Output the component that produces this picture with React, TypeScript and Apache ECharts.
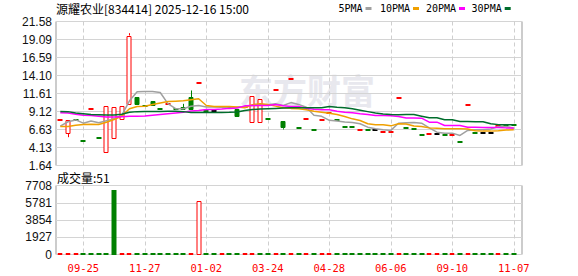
import React, { useEffect, useRef } from "react";
import * as echarts from "echarts";

const dates = [
  "09-03", "09-10", "09-19", "09-25", "10-08", "10-15", "10-24", "10-30", "11-05", "11-12",
  "11-20", "11-27", "12-03", "12-06", "12-11", "12-16", "12-19", "12-24", "12-27", "01-02",
  "01-08", "01-15", "02-06", "02-13", "02-25", "03-05", "03-14", "03-24", "03-28", "04-02",
  "04-08", "04-11", "04-16", "04-21", "04-24", "04-28", "05-08", "05-14", "05-20", "05-23",
  "05-27", "05-30", "06-03", "06-06", "06-17", "06-27", "07-08", "07-18", "07-31", "08-13",
  "08-26", "09-10", "09-17", "09-24", "10-10", "10-16", "10-21", "10-27", "11-03", "11-07",
];

const opens = [
  8.0, 6.03, 7.95, 5.06, 9.49, 5.48, 3.4, 5.34, 8.0, 10.07,
  11.06, 9.93, 10.64, 9.49, 10.2, 9.5, 9.72, 11.1, 13.09, 9.2,
  9.12, 9.72, 9.62, 9.49, 9.8, 7.55, 7.55, 8.11, 12.03, 7.87,
  13.65, 6.86, 8.11, 6.58, 7.97, 8.9, 7.97, 7.04, 7.04, 6.58,
  6.58, 6.58, 6.33, 6.33, 11.0, 6.86, 6.72, 5.93, 6.05, 6.05,
  5.93, 5.93, 4.92, 9.95, 6.18, 6.18, 6.18, 7.05, 7.27, 7.27,
];
const closes = [
  8.0, 8.0, 7.95, 5.06, 9.49, 5.48, 9.91, 9.72, 9.93, 19.64,
  9.95, 9.93, 9.86, 9.49, 10.2, 9.42, 9.26, 9.3, 13.09, 9.2,
  9.12, 9.72, 9.62, 8.33, 9.8, 11.33, 10.88, 8.11, 12.03, 6.8,
  13.65, 6.86, 8.11, 6.58, 7.97, 8.9, 7.97, 7.04, 7.04, 6.58,
  6.58, 6.58, 6.33, 6.33, 11.0, 6.86, 6.72, 5.93, 6.05, 6.05,
  5.93, 5.93, 4.92, 9.95, 6.18, 6.18, 6.18, 7.05, 7.27, 7.27,
];
const lows = [
  8.0, 5.56, 7.95, 5.06, 9.49, 5.48, 3.4, 5.34, 8.0, 10.07,
  9.95, 9.93, 9.86, 9.49, 10.2, 9.42, 9.26, 9.26, 13.09, 9.2,
  9.12, 9.72, 9.62, 8.33, 9.8, 7.55, 7.55, 8.11, 12.03, 6.63,
  13.65, 6.86, 8.11, 6.58, 7.97, 8.9, 7.97, 7.04, 7.04, 6.58,
  6.58, 6.58, 6.33, 6.33, 11.0, 6.86, 6.72, 5.93, 6.05, 6.05,
  5.93, 5.93, 4.92, 9.95, 6.18, 6.18, 6.18, 7.05, 7.27, 7.27,
];
const highs = [
  8.0, 8.0, 7.95, 5.06, 9.49, 5.48, 9.95, 9.77, 9.93, 19.96,
  11.06, 9.93, 10.64, 9.49, 10.2, 9.5, 10.18, 12.03, 13.09, 9.2,
  9.12, 9.72, 9.62, 9.49, 9.8, 11.33, 10.88, 8.11, 12.03, 7.87,
  13.65, 6.86, 8.11, 6.58, 7.97, 8.9, 7.97, 7.04, 7.04, 6.58,
  6.58, 6.58, 6.33, 6.33, 11.0, 6.86, 6.72, 5.93, 6.05, 6.05,
  5.93, 5.93, 4.92, 9.95, 6.18, 6.18, 6.18, 7.05, 7.27, 7.27,
];
// 1 = rise (red), -1 = fall (green), 0 = flat (black)
const trends = [
  1, 1, -1, -1, 1, -1, 1, 1, 1, 1,
  -1, -1, -1, -1, 1, -1, -1, -1, 1, -1,
  0, 1, -1, -1, 1, 1, 1, -1, 1, -1,
  1, -1, 1, -1, 1, 1, -1, -1, -1, 1,
  -1, 0, 1, 1, 1, -1, -1, -1, 1, 0,
  -1, 1, -1, 1, -1, 0, 0, 1, -1, -1,
];

const ma5 = [
  7.1, 7.7, 7.95, 7.5, 7.8, 7.55, 7.85, 8.1, 8.6, 10.6,
  11.85, 11.9, 11.9, 11.75, 10.2, 9.5, 9.5, 9.85, 9.95, 9.75,
  9.75, 9.7, 9.6, 9.7, 9.8, 9.95, 10.1, 10.05, 10.2, 9.95,
  10.35, 10.1, 9.7, 8.6, 8.45, 7.9, 7.8, 7.65, 7.6, 7.42,
  6.95, 6.72, 6.58, 6.5, 7.5, 7.55, 7.6, 7.5, 6.86, 6.26,
  6.12, 6.12, 5.8, 6.49, 6.58, 6.58, 6.7, 7.05, 7.05, 6.8,
];
const ma10 = [
  7.05, 7.05, 7.2, 7.32, 7.35, 7.32, 7.64, 8.0, 8.5, 9.49,
  9.81, 9.85, 10.1, 10.3, 10.5, 10.55, 10.6, 10.74, 10.88, 9.95,
  9.81, 9.81, 9.81, 9.75, 9.63, 10.05, 10.18, 10.1, 9.86, 9.63,
  9.55, 9.49, 9.35, 9.16, 9.03, 8.89, 8.7, 8.43, 8.1, 7.87,
  7.42, 7.27, 7.27, 7.13, 7.42, 7.4, 7.1, 7.05, 6.85, 6.8,
  6.72, 6.72, 6.72, 6.7, 6.45, 6.4, 6.4, 6.45, 6.55, 6.58,
];
const ma20 = [
  8.95, 8.9, 8.75, 8.6, 8.55, 8.45, 8.35, 8.35, 8.4, 8.45,
  8.45, 8.5, 8.6, 8.7, 8.8, 8.9, 9.0, 9.2, 9.26, 9.4,
  9.4, 9.45, 9.55, 9.6, 9.9, 9.95, 9.95, 9.95, 10.1, 9.9,
  9.81, 9.81, 9.58, 9.44, 9.35, 9.35, 9.16, 9.03, 8.94, 8.8,
  8.7, 8.56, 8.56, 8.52, 8.43, 8.22, 8.22, 8.2, 7.64, 7.64,
  7.18, 7.18, 7.18, 6.95, 6.95, 6.9, 6.9, 6.9, 6.85, 6.85,
];
const ma30 = [
  9.12, 9.1, 8.9, 8.8, 8.7, 8.68, 8.62, 8.62, 8.75, 9.0,
  9.1, 9.12, 9.12, 9.12, 9.14, 9.14, 9.1, 8.98, 8.98, 8.98,
  8.98, 8.98, 9.0, 9.05, 9.26, 9.39, 9.45, 9.5, 9.55, 9.6,
  9.63, 9.63, 9.63, 9.63, 9.65, 9.8, 9.7, 9.63, 9.49, 9.3,
  9.1, 8.9, 8.78, 8.7, 8.66, 8.7, 8.7, 8.47, 8.24, 8.24,
  7.97, 7.97, 7.73, 7.73, 7.7, 7.7, 7.42, 7.3, 7.28, 7.28,
];

const volumes = [
  120, 90, 80, 100, 110, 90, 150, 7150, 130, 160,
  100, 90, 120, 80, 90, 100, 110, 130, 6000, 100,
  80, 90, 100, 120, 90, 140, 130, 100, 90, 110,
  120, 100, 90, 80, 100, 90, 100, 80, 90, 100,
  80, 90, 100, 90, 110, 100, 90, 80, 100, 90,
  80, 90, 100, 110, 90, 80, 90, 100, 80, 51,
];
const volTrends = [
  1, 1, 1, -1, -1, -1, -1, -1, 1, 1,
  -1, -1, -1, -1, -1, -1, -1, 1, 1, -1,
  -1, 1, -1, -1, 1, 1, -1, -1, 1, -1,
  1, -1, 1, -1, 1, 1, -1, -1, -1, -1,
  -1, -1, -1, -1, 1, -1, -1, -1, 1, 1,
  -1, 1, -1, 1, -1, -1, -1, 1, -1, -1,
];

const priceTicks = ["1.64", "4.13", "6.63", "9.12", "11.61", "14.10", "16.59", "19.09", "21.58"];
const volumeMax = 7708;
const volumeStep = 1927;
const lastVolume = 51;

const UP = "#ff0000";
const DOWN = "#008000";
const FLAT = "#000000";

const labelIdx = (i: number) => i % 8 === 3;

export default function App() {
  const ref = useRef<HTMLDivElement>(null);
  useEffect(() => {
    if (!ref.current) return;
    const chart = echarts.init(ref.current, undefined, { renderer: "svg" });

    const candleData = dates.map((_, i) => [i, opens[i], closes[i], lows[i], highs[i], trends[i]]);
    const volData = dates.map((_, i) => [i, volumes[i], volTrends[i]]);

    const yLabel = {
      color: "#111",
      fontSize: 12,
      fontFamily: "Liberation Sans, Arial, sans-serif",
      margin: 4,
    };

    const option: any = {
      animation: false,
      backgroundColor: "#fff",
      grid: [
        { left: 56, top: 21.5, width: 466, height: 144, show: true, borderColor: "#999", borderWidth: 1, backgroundColor: "transparent" },
        { left: 60.3, top: 21.5, width: 453.5, height: 144 },
        { left: 56, top: 185.5, width: 466, height: 69, show: true, borderColor: "#999", borderWidth: 1, backgroundColor: "transparent" },
        { left: 60.3, top: 185.5, width: 453.5, height: 69 },
      ],
      xAxis: [
        { gridIndex: 0, type: "value", min: 0, max: 1, show: false },
        {
          gridIndex: 1, type: "category", data: dates, boundaryGap: false,
          axisLine: { show: false }, axisTick: { show: false }, axisLabel: { show: false },
          splitLine: { show: true, interval: (i: number) => labelIdx(i), lineStyle: { color: "#cfcfcf", type: [4, 3], width: 1 } },
        },
        { gridIndex: 2, type: "value", min: 0, max: 1, show: false },
        {
          gridIndex: 3, type: "category", data: dates, boundaryGap: false,
          axisLine: { show: false }, axisTick: { show: false },
          axisLabel: {
            show: true, interval: (i: number) => labelIdx(i), color: "#ff0000",
            fontSize: 10.5, fontFamily: "DejaVu Sans Mono, monospace", margin: 8,
          },
          splitLine: { show: true, interval: (i: number) => labelIdx(i), lineStyle: { color: "#cfcfcf", type: [4, 3], width: 1 } },
        },
      ],
      yAxis: [
        {
          gridIndex: 0, type: "value", min: 0, max: 8, interval: 1,
          axisLine: { show: false }, axisTick: { show: false },
          axisLabel: { ...yLabel, formatter: (v: number) => priceTicks[Math.round(v)] },
          splitLine: { show: true, lineStyle: { color: "#d4d4d4", width: 1 } },
        },
        { gridIndex: 1, type: "value", min: 1.64, max: 21.58, show: false },
        {
          gridIndex: 2, type: "value", min: 0, max: volumeMax, interval: volumeStep,
          axisLine: { show: false }, axisTick: { show: false },
          axisLabel: { ...yLabel, formatter: (v: number) => String(v) },
          splitLine: { show: true, lineStyle: { color: "#d4d4d4", width: 1 } },
        },
        { gridIndex: 3, type: "value", min: 0, max: volumeMax, show: false },
      ],
      series: [
        {
          type: "custom",
          xAxisIndex: 1,
          yAxisIndex: 1,
          z: 2,
          encode: { x: 0, y: [1, 2, 3, 4] },
          data: candleData,
          renderItem: (params: any, api: any) => {
            const i = api.value(0);
            const o = api.value(1);
            const c = api.value(2);
            const l = api.value(3);
            const h = api.value(4);
            const t = api.value(5);
            const color = t > 0 ? UP : t < 0 ? DOWN : FLAT;
            const cx = Math.round(api.coord([i, o])[0]);
            const yo = api.coord([i, o])[1];
            const yc = api.coord([i, c])[1];
            const yl = api.coord([i, l])[1];
            const yh = api.coord([i, h])[1];
            const top = Math.min(yo, yc);
            const bot = Math.max(yo, yc);
            const children: any[] = [];
            if (Math.abs(bot - top) < 1.5) {
              children.push({
                type: "rect",
                shape: { x: cx - 2.5, y: Math.round(top) - 1, width: 5, height: 2 },
                style: { fill: color },
              });
            } else {
              const hollow = t > 0;
              children.push({
                type: "rect",
                shape: { x: cx - 2, y: Math.round(top) + 0.5, width: 4, height: Math.round(bot) - Math.round(top) - 1 },
                style: { fill: hollow ? "#fff" : color, stroke: color, lineWidth: 1 },
              });
            }
            if (yh < top - 0.5) {
              children.push({ type: "line", shape: { x1: cx + 0.5, y1: yh, x2: cx + 0.5, y2: top }, style: { stroke: color, lineWidth: 1 } });
            }
            if (yl > bot + 0.5) {
              children.push({ type: "line", shape: { x1: cx + 0.5, y1: bot, x2: cx + 0.5, y2: yl }, style: { stroke: color, lineWidth: 1 } });
            }
            return { type: "group", children };
          },
        },
        ...[
          { name: "5PMA", data: ma5, color: "#a0a0a0" },
          { name: "10PMA", data: ma10, color: "#f0a000" },
          { name: "20PMA", data: ma20, color: "#ff00ff" },
          { name: "30PMA", data: ma30, color: "#006d2c" },
        ].map((s) => ({
          type: "line",
          name: s.name,
          xAxisIndex: 1,
          yAxisIndex: 1,
          data: s.data,
          symbol: "none",
          z: 3,
          lineStyle: { color: s.color, width: 1.5 },
          itemStyle: { color: s.color },
        })),
        {
          type: "custom",
          xAxisIndex: 3,
          yAxisIndex: 3,
          z: 2,
          encode: { x: 0, y: 1 },
          data: volData,
          renderItem: (params: any, api: any) => {
            const i = api.value(0);
            const v = api.value(1);
            const t = api.value(2);
            const [x, y0] = api.coord([i, 0]);
            const y1 = api.coord([i, v])[1];
            const cx = Math.round(x);
            const up = t > 0;
            const color = up ? UP : DOWN;
            let top = Math.round(y1);
            const base = Math.round(y0);
            if (base - top < 2) top = base - 2;
            if (up) {
              return {
                type: "rect",
                shape: { x: cx - 2, y: top + 0.5, width: 4, height: base - top - 1 },
                style: { fill: "#fff", stroke: color, lineWidth: 1 },
              };
            }
            return {
              type: "rect",
              shape: { x: cx - 2.5, y: top, width: 5, height: base - top },
              style: { fill: color },
            };
          },
        },
      ],
      graphic: [
        {
          type: "text", z: -10, silent: true,
          style: { x: 239, y: 89, text: "东方财富", fill: "#e8e8ee", font: 'bold 34px "Noto Sans CJK SC"', verticalAlign: "middle" },
        },
        {
          type: "text",
          style: { x: 56, y: 8.5, text: "源耀农业[834414] 2025-12-16 15:00", fill: "#000", font: '12px "Noto Sans CJK SC"', verticalAlign: "middle" },
        },
        ...[
          { name: "5PMA", end: 362.5, color: "#a0a0a0" },
          { name: "10PMA", end: 410, color: "#f0a000" },
          { name: "20PMA", end: 456, color: "#ff00ff" },
          { name: "30PMA", end: 501.7, color: "#006d2c" },
        ].flatMap((l) => [
          {
            type: "text",
            style: { x: l.end, y: 8.5, text: l.name, fill: "#000", font: '10px "DejaVu Sans Mono"', align: "right", verticalAlign: "middle" },
          },
          { type: "rect", shape: { x: l.end + 3, y: 7, width: 6, height: 3 }, style: { fill: l.color } },
        ]),
        {
          type: "text",
          style: { x: 57, y: 177, text: "成交量:" + lastVolume, fill: "#000", font: '12px "Noto Sans CJK SC"', verticalAlign: "middle" },
        },
      ],
    };
    chart.setOption(option);
    return () => chart.dispose();
  }, []);
  return <div ref={ref} style={{ width: 578, height: 276, position: "absolute", left: 0, top: 0 }} />;
}
